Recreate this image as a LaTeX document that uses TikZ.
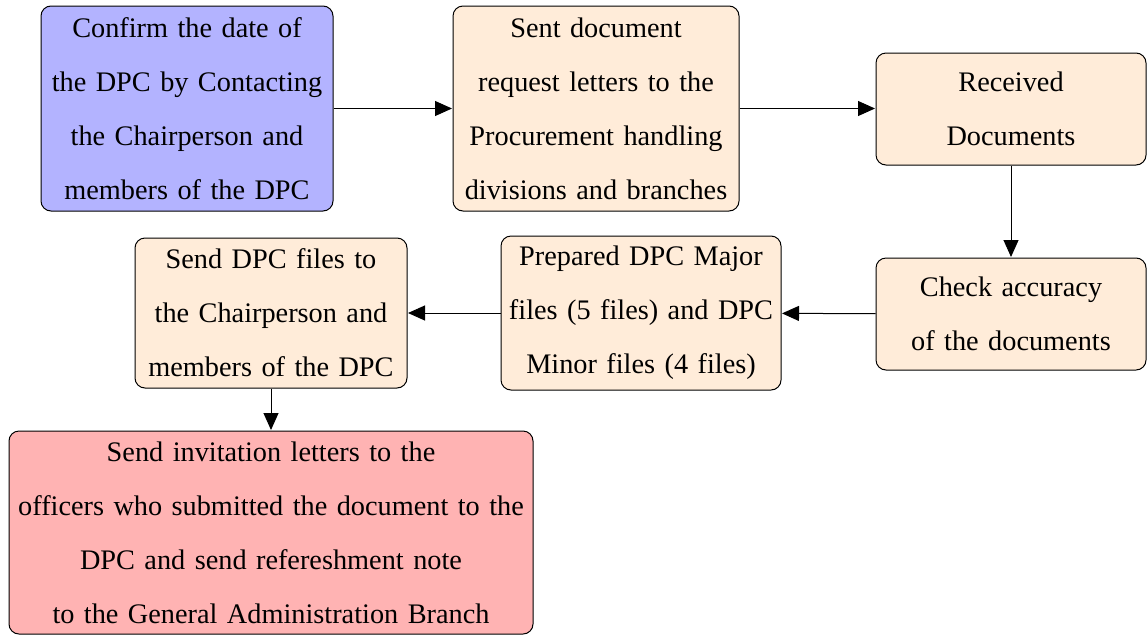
\documentclass[tikz,border=0pt]{standalone}
\usepackage{fontspec}
\setmainfont{Liberation Serif}
\usetikzlibrary{arrows.meta}
\definecolor{stepblue}{RGB}{179,179,255}
\definecolor{steporange}{RGB}{255,236,217}
\definecolor{stepred}{RGB}{255,179,179}
\tikzset{
  stepbox/.style={draw=black, line width=1pt, rounded corners=10pt,
    inner sep=0pt, align=center, font=\fontsize{28.3}{54}\selectfont},
  flow/.style={draw=black, line width=1pt,
    -{Triangle[length=17pt,width=15pt]}, shorten >=0.5pt},
}
\begin{document}
\begin{tikzpicture}[x=1pt,y=-1pt]
\useasboundingbox (0,0) rectangle (1147,635);
% first row
\node[stepbox, fill=stepblue, minimum width=292pt, minimum height=205pt, text width=290pt]
  (confirm) at (187,108.5)
  {Confirm the date of\\the DPC by Contacting\\the Chairperson and\\members of the DPC};
\node[stepbox, fill=steporange, minimum width=286pt, minimum height=205pt, text width=284pt]
  (request) at (596,108.5)
  {Sent document\\request letters to the\\Procurement handling\\divisions and branches};
\node[stepbox, fill=steporange, minimum width=270pt, minimum height=112pt, text width=268pt]
  (received) at (1011,109)
  {Received\\Documents};
% second row
\node[stepbox, fill=steporange, minimum width=270pt, minimum height=112pt, text width=268pt]
  (check) at (1011,314)
  {Check accuracy\\of the documents};
\node[stepbox, fill=steporange, minimum width=280pt, minimum height=154pt, text width=278pt]
  (prepare) at (641,313)
  {Prepared DPC Major\\files (5 files) and DPC\\Minor files (4 files)};
\node[stepbox, fill=steporange, minimum width=272pt, minimum height=150pt, text width=270pt]
  (sendfiles) at (271,313)
  {Send DPC files to\\the Chairperson and\\members of the DPC};
% last step
\node[stepbox, fill=stepred, minimum width=524pt, minimum height=203pt, text width=522pt]
  (invite) at (271,532.5)
  {Send invitation letters to the\\officers who submitted the document to the\\DPC and send refereshment note\\to the General Administration Branch};
% connectors
\draw[flow] (confirm) -- (request);
\draw[flow] (request) -- (request -| received.west);
\draw[flow] (received) -- (check);
\draw[flow] (check) -- (prepare);
\draw[flow] (prepare) -- (sendfiles);
\draw[flow] (sendfiles) -- (invite);
\end{tikzpicture}
\end{document}
